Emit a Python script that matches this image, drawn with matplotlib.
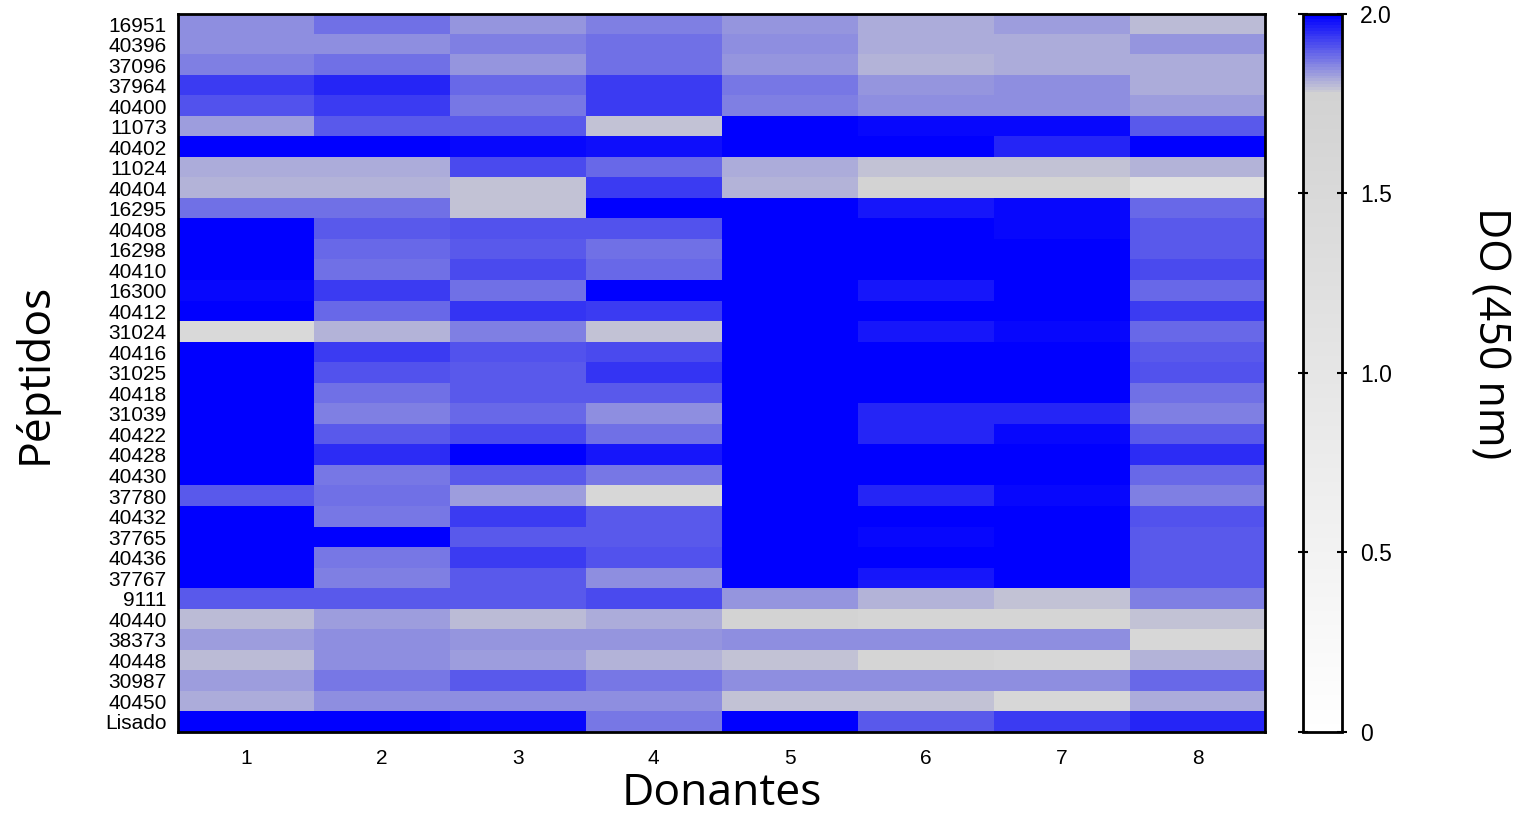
import numpy as np
import matplotlib
matplotlib.use('Agg')
import matplotlib.pyplot as plt
from matplotlib.colors import LinearSegmentedColormap

# Peptide labels (top to bottom)
peptidos = ['16951', '40396', '37096', '37964', '40400', '11073', '40402',
            '11024', '40404', '16295', '40408', '16298', '40410', '16300',
            '40412', '31024', '40416', '31025', '40418', '31039', '40422',
            '40428', '40430', '37780', '40432', '37765', '40436', '37767',
            '9111', '40440', '38373', '40448', '30987', '40450', 'Lisado']

donantes = ['1', '2', '3', '4', '5', '6', '7', '8']

# OD (450 nm) per donor, one list per donor column
d1 = [1.85, 1.85, 1.86, 1.93, 1.91, 1.83, 2.00, 1.82, 1.81, 1.88, 2.00, 2.00,
      2.00, 1.99, 2.00, 1.47, 2.00, 2.00, 2.00, 2.00, 2.00, 2.00, 2.00, 1.90,
      2.00, 2.00, 2.00, 2.00, 1.90, 1.80, 1.83, 1.80, 1.83, 1.82, 2.00]
d2 = [1.88, 1.85, 1.88, 1.96, 1.93, 1.90, 2.00, 1.82, 1.81, 1.88, 1.90, 1.89,
      1.88, 1.93, 1.89, 1.81, 1.93, 1.91, 1.88, 1.86, 1.90, 1.95, 1.87, 1.88,
      1.87, 2.00, 1.87, 1.86, 1.90, 1.83, 1.85, 1.85, 1.87, 1.85, 2.00]
d3 = [1.84, 1.86, 1.84, 1.89, 1.87, 1.90, 1.99, 1.92, 1.79, 1.79, 1.91, 1.90,
      1.92, 1.88, 1.94, 1.86, 1.91, 1.90, 1.90, 1.89, 1.92, 2.00, 1.90, 1.83,
      1.93, 1.90, 1.93, 1.90, 1.90, 1.80, 1.84, 1.83, 1.90, 1.85, 1.99]
d4 = [1.86, 1.88, 1.88, 1.93, 1.93, 1.79, 1.98, 1.89, 1.93, 2.00, 1.91, 1.88,
      1.89, 2.00, 1.93, 1.79, 1.92, 1.94, 1.90, 1.85, 1.88, 1.97, 1.87, 1.54,
      1.90, 1.90, 1.91, 1.85, 1.92, 1.82, 1.84, 1.81, 1.87, 1.85, 1.87]
d5 = [1.84, 1.85, 1.84, 1.87, 1.86, 2.00, 2.00, 1.82, 1.81, 2.00, 2.00, 2.00,
      2.00, 2.00, 2.00, 2.00, 2.00, 2.00, 2.00, 2.00, 2.00, 2.00, 2.00, 2.00,
      2.00, 2.00, 2.00, 2.00, 1.84, 1.70, 1.85, 1.79, 1.85, 1.79, 2.00]
d6 = [1.82, 1.82, 1.81, 1.84, 1.85, 1.99, 2.00, 1.79, 1.70, 1.97, 2.00, 2.00,
      2.00, 1.97, 2.00, 1.97, 2.00, 2.00, 2.00, 1.96, 1.96, 2.00, 2.00, 1.96,
      2.00, 1.99, 2.00, 1.97, 1.81, 1.62, 1.85, 1.62, 1.85, 1.79, 1.90]
d7 = [1.83, 1.82, 1.82, 1.85, 1.85, 1.99, 1.96, 1.79, 1.70, 1.99, 1.99, 2.00,
      2.00, 2.00, 2.00, 1.99, 2.00, 2.00, 2.00, 1.96, 1.99, 2.00, 2.00, 1.99,
      2.00, 2.00, 2.00, 2.00, 1.79, 1.62, 1.85, 1.54, 1.85, 1.54, 1.93]
d8 = [1.80, 1.84, 1.82, 1.82, 1.83, 1.90, 2.00, 1.81, 1.22, 1.89, 1.90, 1.90,
      1.92, 1.89, 1.93, 1.89, 1.90, 1.91, 1.88, 1.86, 1.90, 1.95, 1.89, 1.86,
      1.91, 1.90, 1.90, 1.90, 1.86, 1.79, 1.54, 1.81, 1.89, 1.82, 1.96]

data = np.column_stack([d1, d2, d3, d4, d5, d6, d7, d8])

# white -> light gray -> blue
cmap = LinearSegmentedColormap.from_list(
    'od', [(0.0, '#ffffff'), (1.78 / 2.0, '#d2d2d2'), (1.0, '#0000ff')])

fig = plt.figure(figsize=(15.21, 8.16), dpi=100)
ax = fig.add_axes([0.117, 0.103, 0.715, 0.880])
cax = fig.add_axes([0.857, 0.103, 0.025, 0.880])

im = ax.imshow(data, aspect='auto', cmap=cmap, vmin=0, vmax=2,
               interpolation='nearest')

tick_font = 'Liberation Sans'
ax.set_yticks(np.arange(len(peptidos)))
ax.set_yticklabels(peptidos, fontsize=15, family=tick_font)
ax.set_xticks(np.arange(len(donantes)))
ax.set_xticklabels(donantes, fontsize=15, family=tick_font)
ax.tick_params(length=0)
ax.tick_params(axis='y', pad=8)
ax.tick_params(axis='x', pad=12)
for s in ax.spines.values():
    s.set_linewidth(2)

ax.set_xlabel('Donantes', fontsize=32, family='Open Sans', labelpad=3)
ax.set_ylabel('Péptidos', fontsize=32, family='Open Sans', labelpad=34)

cb = fig.colorbar(im, cax=cax, ticks=[0, 0.5, 1.0, 1.5, 2.0])
cb.ax.set_yticklabels(['0', '0.5', '1.0', '1.5', '2.0'], fontsize=16.5,
                      family=tick_font)
cb.ax.tick_params(length=7, width=1.5, direction='inout', left=True,
                  right=True, pad=10)
cb.outline.set_linewidth(2)

fig.text(1490 / 1521, 1 - 333 / 816, 'DO (450 nm)', fontsize=31,
         family='Open Sans', rotation=-90, ha='center', va='center')

fig.savefig('out.png', dpi=100)
